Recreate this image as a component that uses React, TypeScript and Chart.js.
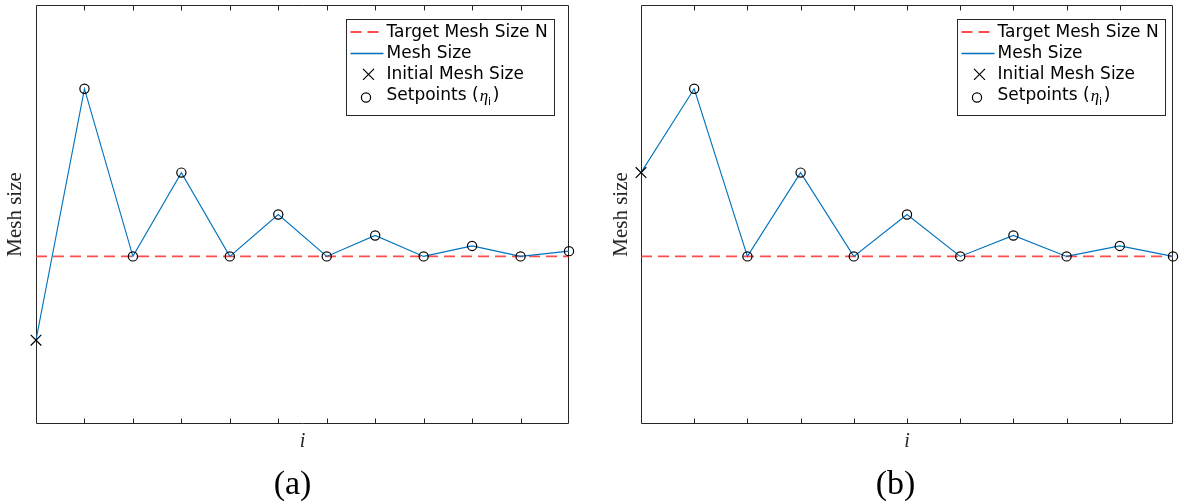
import React, { useEffect, useRef } from "react";
import { Chart, registerables } from "chart.js";

Chart.register(...registerables);

// ---------- data ----------
const TARGET_N = 100;
const Y_MIN = 0;
const Y_MAX = 250;

const stepsA = [0, 1, 2, 3, 4, 5, 6, 7, 8, 9, 10, 11];
const meshSizeA = [50, 200, 100, 150, 100, 125, 100, 112.5, 100, 106.25, 100, 103.125];

const stepsB = [0, 1, 2, 3, 4, 5, 6, 7, 8, 9, 10];
const meshSizeB = [150, 200, 100, 150, 100, 125, 100, 112.5, 100, 106.25, 100];

const legendLabels = ["Target Mesh Size N", "Mesh Size", "Initial Mesh Size", "Setpoints ("];
const yAxisTitle = "Mesh size";
const xAxisTitle = "i";
const captions = ["(a)", "(b)"];

// ---------- styles ----------
const BLUE = "#0072BD";
const RED = "rgba(255, 45, 45, 0.85)";
const DARK = "#262626";
const SERIF = "'Liberation Serif', serif";
const SANS = "'DejaVu Sans', sans-serif";

const framePlugin = {
  id: "frame",
  beforeDatasetsDraw(chart: any, _args: any, opts: any) {
    const { ctx, chartArea: a, scales } = chart;
    ctx.save();
    ctx.strokeStyle = DARK;
    ctx.lineWidth = 1;
    const l = Math.round(a.left) + 0.5;
    const r = Math.round(a.right) - 0.5;
    const t = Math.round(a.top) + 0.5;
    const b = Math.round(a.bottom) - 0.5;
    ctx.beginPath();
    ctx.rect(l, t, r - l, b - t);
    ctx.stroke();
    const steps: number[] = opts.steps || [];
    ctx.beginPath();
    steps.forEach((s) => {
      const x = Math.round(scales.x.getPixelForValue(s)) + 0.5;
      if (x <= l + 1 || x >= r - 1) return;
      ctx.moveTo(x, b);
      ctx.lineTo(x, b - 5);
      ctx.moveTo(x, t);
      ctx.lineTo(x, t + 5);
    });
    ctx.stroke();
    ctx.restore();
  },
};

const legendPlugin = {
  id: "boxLegend",
  afterDatasetsDraw(chart: any, _args: any, opts: any) {
    const { ctx, chartArea: a } = chart;
    ctx.save();
    ctx.font = `17px ${SANS}`;
    const textW = ctx.measureText(legendLabels[0]).width;
    const w = Math.round(40 + textW + 7);
    const h = 96;
    const x0 = Math.round(a.right - opts.rightGap - w) + 0.5;
    const y0 = Math.round(a.top + 14) + 0.5;
    ctx.fillStyle = "#ffffff";
    ctx.fillRect(x0, y0, w, h);
    ctx.strokeStyle = DARK;
    ctx.lineWidth = 1;
    ctx.strokeRect(x0, y0, w, h);

    const rowY = (i: number) => y0 + 12.7 + i * 21.1;

    // row 0: dashed red
    ctx.strokeStyle = RED;
    ctx.lineWidth = 1.8;
    ctx.setLineDash([11, 6]);
    ctx.beginPath();
    ctx.moveTo(x0 + 4, Math.round(rowY(0)));
    ctx.lineTo(x0 + 37, Math.round(rowY(0)));
    ctx.stroke();
    ctx.setLineDash([]);

    // row 1: blue solid
    ctx.strokeStyle = BLUE;
    ctx.lineWidth = 1.3;
    ctx.beginPath();
    ctx.moveTo(x0 + 4, Math.round(rowY(1)) + 0.5);
    ctx.lineTo(x0 + 37, Math.round(rowY(1)) + 0.5);
    ctx.stroke();

    // row 2: X marker
    ctx.strokeStyle = "#000";
    ctx.lineWidth = 1.2;
    const cx = x0 + 22;
    const cy = rowY(2);
    ctx.beginPath();
    ctx.moveTo(cx - 5.5, cy - 5.5);
    ctx.lineTo(cx + 5.5, cy + 5.5);
    ctx.moveTo(cx + 5.5, cy - 5.5);
    ctx.lineTo(cx - 5.5, cy + 5.5);
    ctx.stroke();

    // row 3: circle
    ctx.beginPath();
    ctx.arc(x0 + 19.5, rowY(3) + 2, 4.6, 0, Math.PI * 2);
    ctx.stroke();

    // texts
    ctx.fillStyle = "#000";
    ctx.textBaseline = "middle";
    ctx.textAlign = "left";
    const tx = x0 + 40;
    for (let i = 0; i < 4; i++) {
      ctx.font = `17px ${SANS}`;
      ctx.fillText(legendLabels[i], tx, rowY(i));
    }
    // eta_i )
    let px = tx + ctx.measureText(legendLabels[3]).width + 1;
    ctx.font = `italic 17px ${SERIF}`;
    ctx.fillText("\u03B7", px, rowY(3) + 1);
    px += ctx.measureText("\u03B7").width;
    ctx.font = `11px ${SANS}`;
    ctx.fillText("i", px, rowY(3) + 7);
    px += ctx.measureText("i").width + 1.5;
    ctx.font = `17px ${SANS}`;
    ctx.fillText(")", px, rowY(3));
    ctx.restore();
  },
};

function Panel(props: {
  steps: number[];
  values: number[];
  caption: string;
  left: number;
  width: number;
  padLeft: number;
  padRight: number;
  yWidth: number;
  yTitlePad: number;
  legendGap: number;
}) {
  const ref = useRef<HTMLCanvasElement>(null);
  useEffect(() => {
    const { steps, values } = props;
    const last = steps[steps.length - 1];
    const targetData = [
      { x: steps[0], y: TARGET_N },
      { x: last, y: TARGET_N },
    ];
    const meshData = steps.map((s, i) => ({ x: s, y: values[i] }));
    const initData = [{ x: steps[0], y: values[0] }];
    const setData = steps.slice(1).map((s, i) => ({ x: s, y: values[i + 1] }));

    const chart = new Chart(ref.current as HTMLCanvasElement, {
      type: "line",
      data: {
        datasets: [
          {
            label: legendLabels[0],
            data: targetData,
            borderColor: RED,
            borderWidth: 1.8,
            borderDash: [11, 6],
            pointRadius: 0,
            order: 4,
            clip: false,
          } as any,
          {
            label: legendLabels[1],
            data: meshData,
            borderColor: BLUE,
            borderWidth: 1.1,
            pointRadius: 0,
            tension: 0,
            order: 3,
            clip: false,
          },
          {
            label: legendLabels[2],
            data: initData,
            showLine: false,
            pointStyle: "crossRot",
            pointRadius: 7.5,
            pointBorderColor: "#000",
            pointBorderWidth: 1.2,
            order: 2,
            clip: false,
          },
          {
            label: legendLabels[3],
            data: setData,
            showLine: false,
            pointStyle: "circle",
            pointRadius: 4.6,
            pointBackgroundColor: "rgba(0,0,0,0)",
            pointBorderColor: "#000",
            pointBorderWidth: 1.2,
            order: 1,
            clip: false,
          },
        ],
      },
      options: {
        animation: false,
        responsive: true,
        maintainAspectRatio: false,
        events: [],
        layout: {
          autoPadding: false,
          padding: { left: props.padLeft, right: props.padRight, top: 5, bottom: 0 },
        },
        scales: {
          x: {
            type: "linear",
            min: steps[0],
            max: last,
            ticks: { display: false, stepSize: 1 },
            grid: { display: false },
            border: { display: false },
            title: {
              display: true,
              text: xAxisTitle,
              color: DARK,
              font: { family: SERIF, size: 20, style: "italic" },
              padding: { top: 0, bottom: 14 },
            },
            afterFit: (s: any) => {
              s.height = 44;
            },
          },
          y: {
            type: "linear",
            min: Y_MIN,
            max: Y_MAX,
            ticks: { display: false },
            grid: { display: false },
            border: { display: false },
            title: {
              display: true,
              text: yAxisTitle,
              color: DARK,
              font: { family: SERIF, size: 21 },
              padding: { top: props.yTitlePad, bottom: 0 },
            },
            afterFit: (s: any) => {
              s.width = props.yWidth;
            },
          },
        },
        plugins: {
          legend: { display: false },
          tooltip: { enabled: false },
          title: {
            display: true,
            position: "bottom",
            text: props.caption,
            color: "#000",
            font: { family: SERIF, size: 34, weight: "normal", lineHeight: 1 },
            padding: { top: 0, bottom: 2 },
          },
          frame: { steps },
          boxLegend: { rightGap: props.legendGap },
        } as any,
      } as any,
      plugins: [framePlugin, legendPlugin],
    });
    return () => chart.destroy();
  }, []);
  return (
    <div
      style={{
        position: "absolute",
        left: props.left,
        top: 0,
        width: props.width,
        height: 504,
      }}
    >
      <canvas ref={ref} />
    </div>
  );
}

export default function App() {
  return (
    <div
      style={{
        position: "absolute",
        left: 0,
        top: 0,
        width: 1183,
        height: 504,
        background: "#fff",
        overflow: "hidden",
      }}
    >
      <Panel
        steps={stepsA}
        values={meshSizeA}
        caption={captions[0]}
        left={0}
        width={585}
        padLeft={16}
        padRight={16}
        yWidth={20}
        yTitlePad={-13.1}
        legendGap={15}
      />
      <Panel
        steps={stepsB}
        values={meshSizeB}
        caption={captions[1]}
        left={605}
        width={578}
        padLeft={13}
        padRight={10}
        yWidth={23}
        yTitlePad={-9.1}
        legendGap={8}
      />
    </div>
  );
}
